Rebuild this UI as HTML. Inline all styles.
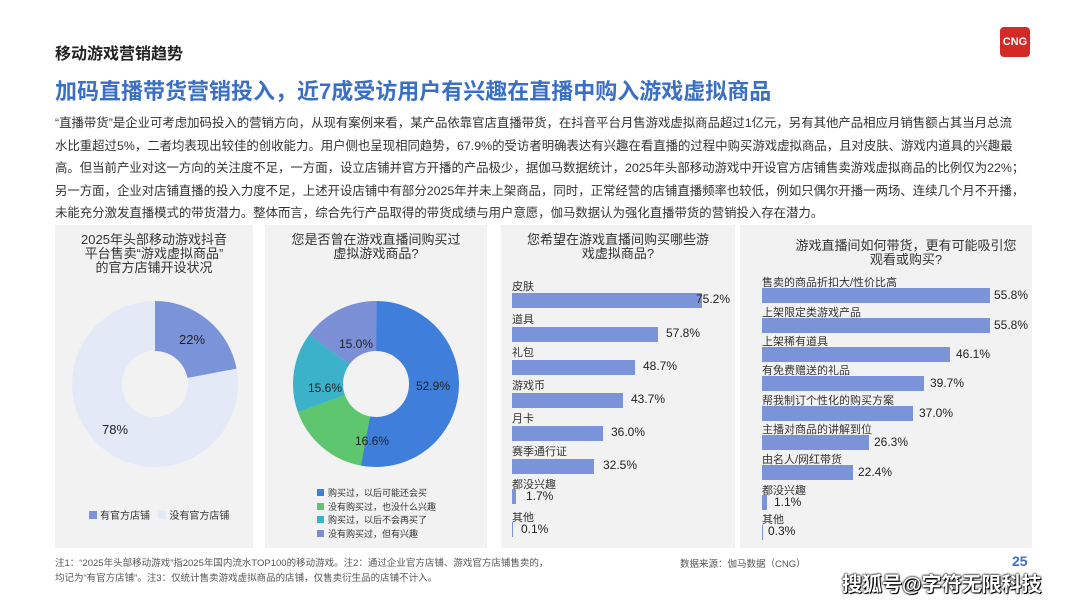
<!DOCTYPE html>
<html><head><meta charset="utf-8"><style>
*{margin:0;padding:0;box-sizing:border-box}
body{width:1080px;height:604px;background:#fff;font-family:"Liberation Sans","Noto Sans CJK SC",sans-serif;position:relative;overflow:hidden;color:#222}
.a{position:absolute;white-space:nowrap}
.p{position:absolute;background:#f2f2f2;top:225px;height:323px}
.t{position:absolute;font-size:13px;line-height:14px;text-align:center;color:#333;left:0;right:0}
.lab{position:absolute;font-size:11px;color:#333;white-space:nowrap}
.bar{position:absolute;background:#7b93d8;height:15px}
.v{position:absolute;font-size:12px;color:#222;white-space:nowrap}
</style></head><body>
<div class="a" style="left:55px;top:40px;font-size:16px;font-weight:bold;color:#222">移动游戏营销趋势</div>
<div class="a" style="left:1000px;top:27px;width:30px;height:30px;background:#d42a26;border-radius:4px;color:#fff;font-size:11px;font-weight:bold;text-align:center;line-height:30px">CNG</div>
<div class="a" style="left:55px;top:74px;font-size:22px;color:#3a6fc4;font-weight:bold">加码直播带货营销投入，近7成受访用户有兴趣在直播中购入游戏虚拟商品</div>
<div class="a" style="left:55px;top:112px;font-size:12.4px;line-height:22.6px;color:#333">“直播带货”是企业可考虑加码投入的营销方向，从现有案例来看，某产品依靠官店直播带货，在抖音平台月售游戏虚拟商品超过1亿元，另有其他产品相应月销售额占其当月总流<br>水比重超过5%，二者均表现出较佳的创收能力。用户侧也呈现相同趋势，67.9%的受访者明确表达有兴趣在看直播的过程中购买游戏虚拟商品，且对皮肤、游戏内道具的兴趣最<br>高。但当前产业对这一方向的关注度不足，一方面，设立店铺并官方开播的产品极少，据伽马数据统计，2025年头部移动游戏中开设官方店铺售卖游戏虚拟商品的比例仅为22%；<br>另一方面，企业对店铺直播的投入力度不足，上述开设店铺中有部分2025年并未上架商品，同时，正常经营的店铺直播频率也较低，例如只偶尔开播一两场、连续几个月不开播，<br>未能充分激发直播模式的带货潜力。整体而言，综合先行产品取得的带货成绩与用户意愿，伽马数据认为强化直播带货的营销投入存在潜力。</div>

<div class="p" style="left:55px;width:198px">
<div class="t" style="top:8px">2025年头部移动游戏抖音<br>平台售卖“游戏虚拟商品”<br>的官方店铺开设状况</div>
<div class="lab" style="left:34px;top:282px;font-size:10px"><span style="display:inline-block;width:8px;height:8px;background:#7b93d8;margin-right:3px"></span>有官方店铺 &nbsp; <span style="display:inline-block;width:8px;height:8px;background:#e4e9f7;margin-right:3px"></span>没有官方店铺</div>
</div>
<div class="p" style="left:265px;width:222px">
<div class="t" style="top:8px">您是否曾在游戏直播间购买过<br>虚拟游戏商品?</div>
<div class="lab" style="left:52px;top:262px;font-size:9px;line-height:13.5px">
<div><span style="display:inline-block;width:7px;height:7px;background:#3f7fdb;margin-right:4px"></span>购买过，以后可能还会买</div>
<div><span style="display:inline-block;width:7px;height:7px;background:#5dc66e;margin-right:4px"></span>没有购买过，也没什么兴趣</div>
<div><span style="display:inline-block;width:7px;height:7px;background:#3bb2c9;margin-right:4px"></span>购买过，以后不会再买了</div>
<div><span style="display:inline-block;width:7px;height:7px;background:#7a8fd6;margin-right:4px"></span>没有购买过，但有兴趣</div></div>
</div>
<div class="p" style="left:501px;width:234px">
<div class="t" style="top:8px">您希望在游戏直播间购买哪些游<br>戏虚拟商品?</div>
</div>
<div class="p" style="left:740px;width:292px">
<div class="t" style="top:14px;left:40px">游戏直播间如何带货，更有可能吸引您<br>观看或购买?</div>
</div>

<svg class="a" style="left:0;top:0" width="1080" height="604">
<g transform="translate(155,384)">
<circle r="58" fill="none" stroke="#e4e9f7" stroke-width="50"/>
<circle r="58" fill="none" stroke="#7b93d8" stroke-width="50" stroke-dasharray="80.2 400" transform="rotate(-90)"/>
<text x="37" y="-40" font-size="13" fill="#222" text-anchor="middle" font-family="Liberation Sans">22%</text>
<text x="-40" y="50" font-size="13" fill="#222" text-anchor="middle" font-family="Liberation Sans">78%</text>
</g>
<g transform="translate(376,384)" font-family="Liberation Sans" font-size="12" fill="#222" text-anchor="middle">
<circle r="58" fill="none" stroke="#3f7fdb" stroke-width="50" stroke-dasharray="192.8 400" transform="rotate(-90)"/>
<circle r="58" fill="none" stroke="#5dc66e" stroke-width="50" stroke-dasharray="60.5 400" transform="rotate(100.4)"/>
<circle r="58" fill="none" stroke="#3bb2c9" stroke-width="50" stroke-dasharray="56.9 400" transform="rotate(160.2)"/>
<circle r="58" fill="none" stroke="#7a8fd6" stroke-width="50" stroke-dasharray="54.7 400" transform="rotate(216.4)"/>
<text x="57" y="6">52.9%</text>
<text x="-4" y="61">16.6%</text>
<text x="-51" y="8">15.6%</text>
<text x="-20" y="-36">15.0%</text>
</g>
</svg>

<!-- chart 3 -->
<div class="lab" style="left:512px;top:278px">皮肤</div><div class="bar" style="left:512px;top:293px;width:190px"></div><div class="v" style="left:696px;top:292px">75.2%</div>
<div class="lab" style="left:512px;top:311px">道具</div><div class="bar" style="left:512px;top:327px;width:146px"></div><div class="v" style="left:666px;top:326px">57.8%</div>
<div class="lab" style="left:512px;top:344px">礼包</div><div class="bar" style="left:512px;top:360px;width:123px"></div><div class="v" style="left:643px;top:359px">48.7%</div>
<div class="lab" style="left:512px;top:377px">游戏币</div><div class="bar" style="left:512px;top:393px;width:111px"></div><div class="v" style="left:631px;top:392px">43.7%</div>
<div class="lab" style="left:512px;top:410px">月卡</div><div class="bar" style="left:512px;top:426px;width:91px"></div><div class="v" style="left:611px;top:425px">36.0%</div>
<div class="lab" style="left:512px;top:443px">赛季通行证</div><div class="bar" style="left:512px;top:459px;width:82px"></div><div class="v" style="left:603px;top:458px">32.5%</div>
<div class="lab" style="left:512px;top:476px">都没兴趣</div><div class="bar" style="left:512px;top:489px;width:4px"></div><div class="v" style="left:526px;top:489px">1.7%</div>
<div class="lab" style="left:512px;top:509px">其他</div><div class="bar" style="left:512px;top:522px;width:1px"></div><div class="v" style="left:521px;top:522px">0.1%</div>

<!-- chart 4 -->
<div class="lab" style="left:762px;top:274px">售卖的商品折扣大/性价比高</div><div class="bar" style="left:762px;top:288px;width:228px"></div><div class="v" style="left:994px;top:288px">55.8%</div>
<div class="lab" style="left:762px;top:304px">上架限定类游戏产品</div><div class="bar" style="left:762px;top:318px;width:228px"></div><div class="v" style="left:994px;top:318px">55.8%</div>
<div class="lab" style="left:762px;top:333px">上架稀有道具</div><div class="bar" style="left:762px;top:347px;width:188px"></div><div class="v" style="left:956px;top:347px">46.1%</div>
<div class="lab" style="left:762px;top:362px">有免费赠送的礼品</div><div class="bar" style="left:762px;top:376px;width:162px"></div><div class="v" style="left:930px;top:376px">39.7%</div>
<div class="lab" style="left:762px;top:392px">帮我制订个性化的购买方案</div><div class="bar" style="left:762px;top:406px;width:151px"></div><div class="v" style="left:919px;top:406px">37.0%</div>
<div class="lab" style="left:762px;top:421px">主播对商品的讲解到位</div><div class="bar" style="left:762px;top:435px;width:107px"></div><div class="v" style="left:874px;top:435px">26.3%</div>
<div class="lab" style="left:762px;top:451px">由名人/网红带货</div><div class="bar" style="left:762px;top:465px;width:91px"></div><div class="v" style="left:858px;top:465px">22.4%</div>
<div class="lab" style="left:762px;top:482px">都没兴趣</div><div class="bar" style="left:762px;top:495px;width:5px"></div><div class="v" style="left:774px;top:495px">1.1%</div>
<div class="lab" style="left:762px;top:511px">其他</div><div class="bar" style="left:762px;top:525px;width:1px"></div><div class="v" style="left:768px;top:524px">0.3%</div>

<div class="a" style="left:55px;top:556px;font-size:9.5px;line-height:15px;color:#555">注1：“2025年头部移动游戏”指2025年国内流水TOP100的移动游戏。注2：通过企业官方店铺、游戏官方店铺售卖的，<br>均记为“有官方店铺”。注3：仅统计售卖游戏虚拟商品的店铺，仅售卖衍生品的店铺不计入。</div>
<div class="a" style="left:680px;top:556px;font-size:9.5px;color:#555">数据来源：伽马数据（CNG）</div>
<div class="a" style="left:1012px;top:553px;font-size:14px;color:#3a6fc4;font-weight:bold">25</div>
<div class="a" style="left:842px;top:568px;font-size:20px;color:#fff;font-weight:bold;text-shadow:0 0 2px #000,0 0 2px #000,1px 1px 0 #000">搜狐号@字符无限科技</div>
</body></html>
